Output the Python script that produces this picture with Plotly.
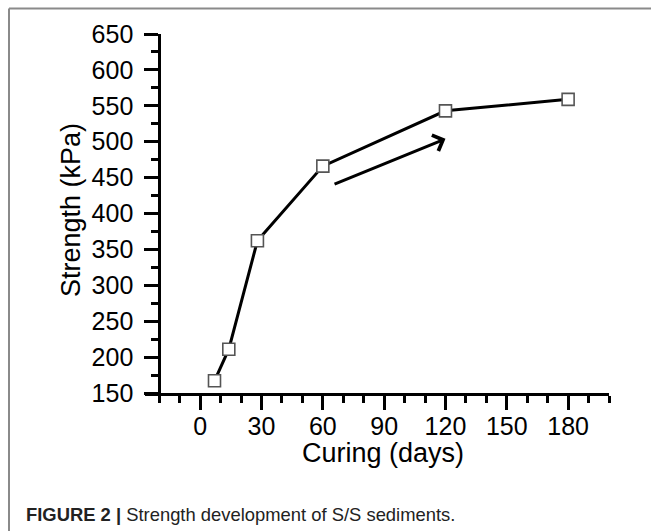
import plotly.graph_objects as go

# Data
curing_days = [7, 14, 28, 60, 120, 180]
strength_kpa = [167, 211, 362, 466, 543, 559]
x_tick_vals = [0, 30, 60, 90, 120, 150, 180]
y_tick_vals = [150, 200, 250, 300, 350, 400, 450, 500, 550, 600, 650]
arrow_start = (65, 440)
arrow_end = (120, 504)

W, H = 651, 531
FONT = "Liberation Sans, Arial, sans-serif"

# layout helpers (pixel -> paper)
def px(x):
    return x / W

def py(y):
    return 1 - y / H

x_dom = [px(145), px(609)]
y_dom = [py(393), py(34)]
x_range = [-27, 200]
yaxis_pos = x_dom[0] + (-20 - x_range[0]) / (x_range[1] - x_range[0]) * (x_dom[1] - x_dom[0])

fig = go.Figure()
fig.add_trace(go.Scatter(
    x=curing_days, y=strength_kpa, mode="lines+markers",
    line=dict(color="black", width=3),
    marker=dict(symbol="square", size=12, color="white",
                line=dict(color="#555555", width=1.6)),
    cliponaxis=False, showlegend=False,
))

fig.add_annotation(
    x=arrow_end[0], y=arrow_end[1], ax=arrow_start[0], ay=arrow_start[1],
    xref="x", yref="y", axref="x", ayref="y", text="",
    showarrow=True, arrowhead=4, arrowsize=1.1, arrowwidth=3, arrowcolor="black",
)

# axis titles
fig.add_annotation(text="Curing (days)", x=px(383), y=py(453), xref="paper", yref="paper",
                   showarrow=False, font=dict(family=FONT, size=27, color="black"),
                   xanchor="center", yanchor="middle")
fig.add_annotation(text="Strength (kPa)", x=px(71), y=py(210), xref="paper", yref="paper",
                   showarrow=False, textangle=-90, font=dict(family=FONT, size=27, color="black"),
                   xanchor="center", yanchor="middle")

# caption
fig.add_annotation(
    text="<b>FIGURE 2 |</b> Strength development of S/S sediments.",
    x=px(24), y=py(514), xref="paper", yref="paper", showarrow=False,
    xanchor="left", yanchor="middle",
    font=dict(family=FONT, size=18.4, color="#222222"),
)

# outer frame
fig.add_shape(type="line", xref="paper", yref="paper", x0=px(9), x1=1.01, y0=py(8.5), y1=py(8.5),
              line=dict(color="#8a8a8a", width=2))
fig.add_shape(type="line", xref="paper", yref="paper", x0=px(9), x1=px(9), y0=-0.01, y1=py(8.5),
              line=dict(color="#8a8a8a", width=2))

fig.update_layout(
    width=W, height=H, template="none",
    margin=dict(l=0, r=0, t=0, b=0),
    paper_bgcolor="white", plot_bgcolor="white",
    font=dict(family=FONT, color="black"),
    xaxis=dict(
        domain=x_dom, range=x_range, anchor="y", automargin=False,
        tickmode="array", tickvals=x_tick_vals,
        showline=True, linecolor="black", linewidth=3,
        ticks="outside", ticklen=14, tickwidth=3, tickcolor="black",
        minor=dict(dtick=10, tick0=0, ticks="outside", ticklen=7, tickwidth=2.5, tickcolor="black"),
        showgrid=False, zeroline=False, ticklabelstandoff=-5,
        tickfont=dict(family=FONT, size=25, color="black"),
    ),
    yaxis=dict(
        domain=y_dom, range=[150, 650], anchor="free", position=yaxis_pos, automargin=False,
        tickmode="array", tickvals=y_tick_vals,
        showline=True, linecolor="black", linewidth=3,
        ticks="outside", ticklen=14, tickwidth=3, tickcolor="black",
        minor=dict(dtick=25, tick0=150, ticks="outside", ticklen=7, tickwidth=2.5, tickcolor="black"),
        showgrid=False, zeroline=False, ticklabelstandoff=6,
        tickfont=dict(family=FONT, size=25, color="black"),
    ),
)

fig.write_html("out.html")
